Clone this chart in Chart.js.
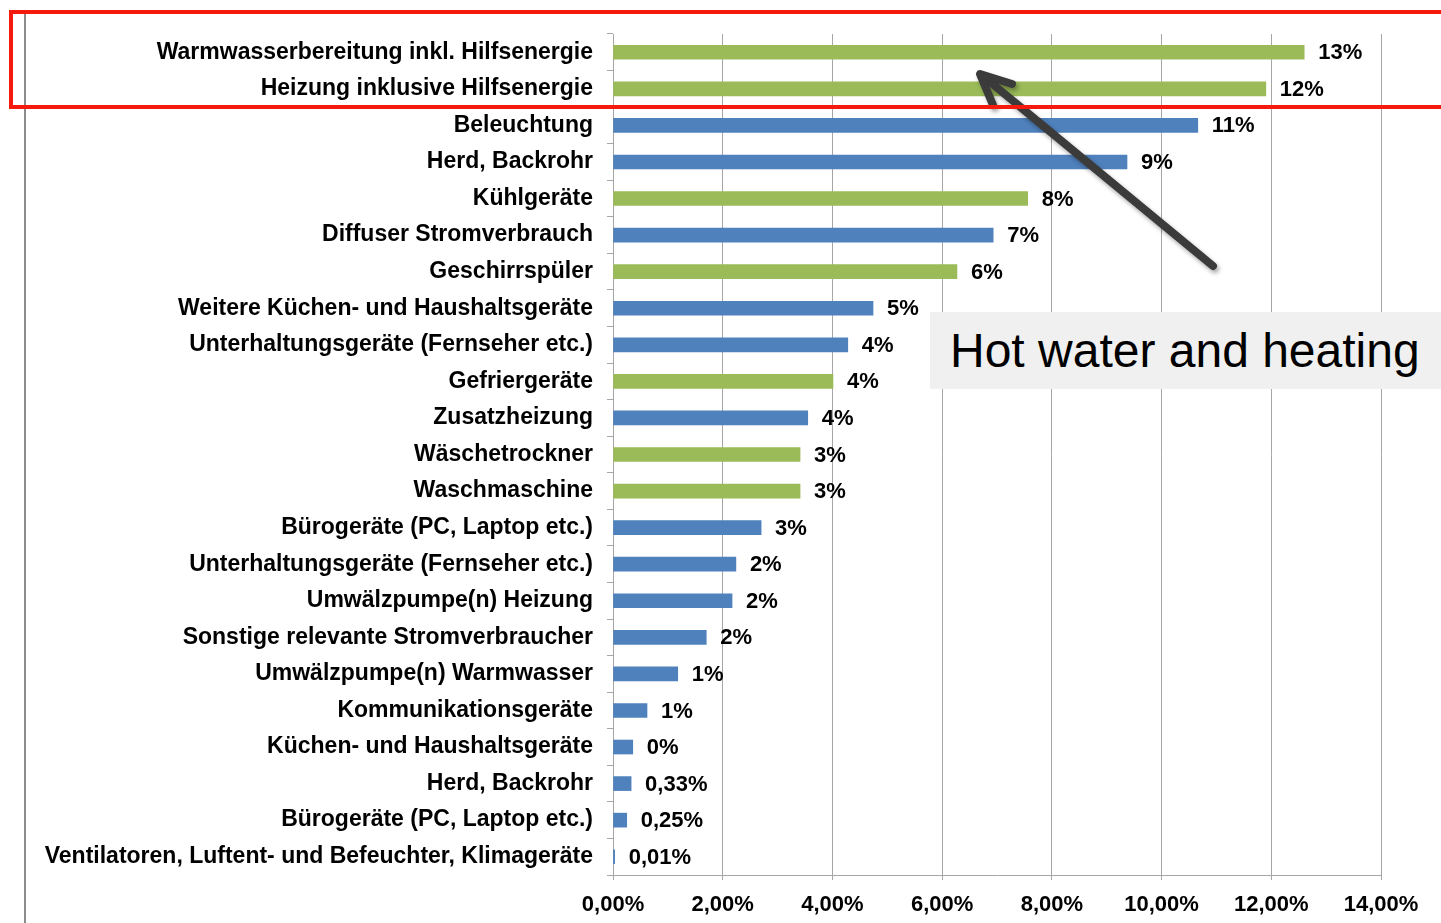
<!DOCTYPE html>
<html>
<head>
<meta charset="utf-8">
<script src="https://cdn.jsdelivr.net/npm/chart.js@4.4.1/dist/chart.umd.min.js"></script>
<style>
    html, body { margin: 0; padding: 0; background: #fff; }
    #wrap { position: relative; width: 1441px; height: 923px; overflow: hidden; }
    #chart { position: absolute; left: 0; top: 0; }
    .leftline { position: absolute; left: 24px; top: 14px; width: 2px; height: 909px; background: #8c8c8c; }
    .redbox { position: absolute; left: 9px; top: 10px; width: 1450px; height: 91px; border: 4px solid #f51a0c; }
    .note { position: absolute; left: 930px; top: 312px; width: 520px; height: 77px; background: #f0f0f0;
            font-family: 'Liberation Sans', Arial, sans-serif; font-size: 48px; line-height: 77px; color: #000;
            padding-left: 20px; box-sizing: border-box; }
    svg { position: absolute; left: 0; top: 0; }
</style>
</head>
<body>
<div id="wrap">
    <canvas id="chart" width="1441" height="923"></canvas>
    <div class="leftline"></div>
    <svg width="1441" height="923">
        <defs>
            <filter id="sh" x="-20%" y="-20%" width="140%" height="140%">
                <feDropShadow dx="2" dy="3" stdDeviation="2" flood-color="#000" flood-opacity="0.35"/>
            </filter>
        </defs>
        <g filter="url(#sh)" stroke="#3a3a3a" stroke-width="8" stroke-linecap="round" stroke-linejoin="round" fill="none">
            <line x1="1213" y1="266" x2="984" y2="77"/>
            <polyline points="1012,84 980,74 993,105"/>
        </g>
    </svg>
    <div class="redbox"></div>
    <div class="note">Hot water and heating</div>
</div>
<script>
// Kategorien (von oben nach unten)
const categories = [
    'Warmwasserbereitung inkl. Hilfsenergie',
    'Heizung inklusive Hilfsenergie',
    'Beleuchtung',
    'Herd, Backrohr',
    'Kühlgeräte',
    'Diffuser Stromverbrauch',
    'Geschirrspüler',
    'Weitere Küchen- und Haushaltsgeräte',
    'Unterhaltungsgeräte (Fernseher etc.)',
    'Gefriergeräte',
    'Zusatzheizung',
    'Wäschetrockner',
    'Waschmaschine',
    'Bürogeräte (PC, Laptop etc.)',
    'Unterhaltungsgeräte (Fernseher etc.)',
    'Umwälzpumpe(n) Heizung',
    'Sonstige relevante Stromverbraucher',
    'Umwälzpumpe(n) Warmwasser',
    'Kommunikationsgeräte',
    'Küchen- und Haushaltsgeräte',
    'Herd, Backrohr',
    'Bürogeräte (PC, Laptop etc.)',
    'Ventilatoren, Luftent- und Befeuchter, Klimageräte'
];

// Anteile in %
const shares = [12.6, 11.9, 10.66, 9.37, 7.56, 6.93, 6.27, 4.74, 4.28, 4.01, 3.55, 3.41, 3.41,
                2.70, 2.24, 2.17, 1.70, 1.18, 0.62, 0.36, 0.33, 0.25, 0.03];

// Beschriftungen an den Balken
const shareLabels = ['13%', '12%', '11%', '9%', '8%', '7%', '6%', '5%', '4%', '4%', '4%', '3%', '3%',
                     '3%', '2%', '2%', '2%', '1%', '1%', '0%', '0,33%', '0,25%', '0,01%'];

// g = grün, b = blau
const groups = ['g', 'g', 'b', 'b', 'g', 'b', 'g', 'b', 'b', 'g', 'b', 'g', 'g',
                'b', 'b', 'b', 'b', 'b', 'b', 'b', 'b', 'b', 'b'];

const xTicks = [0, 2, 4, 6, 8, 10, 12, 14];

const GREEN = '#9bbb59';
const BLUE = '#4f81bd';
const GRID = '#a6a6a6';
const FONT = "'Liberation Sans', Arial, sans-serif";

// Werte neben die Balken schreiben
const barLabels = {
    id: 'barLabels',
    afterDatasetsDraw(chart) {
        const ctx = chart.ctx;
        const meta = chart.getDatasetMeta(0);
        ctx.save();
        ctx.font = 'bold 22px ' + FONT;
        ctx.fillStyle = '#000';
        ctx.textBaseline = 'middle';
        ctx.textAlign = 'left';
        meta.data.forEach((bar, i) => {
            ctx.fillText(shareLabels[i], bar.x + 14, bar.y + 1);
        });
        ctx.restore();
    }
};

new Chart(document.getElementById('chart'), {
    type: 'bar',
    data: {
        labels: categories,
        datasets: [{
            data: shares,
            backgroundColor: groups.map(g => g === 'g' ? GREEN : BLUE),
            barThickness: 14,
            borderWidth: 0
        }]
    },
    options: {
        indexAxis: 'y',
        responsive: false,
        animation: false,
        layout: { padding: { left: 0, right: 60, top: 34, bottom: 0 } },
        plugins: { legend: { display: false }, tooltip: { enabled: false } },
        scales: {
            x: {
                min: 0,
                max: 14,
                afterBuildTicks: scale => { scale.ticks = xTicks.map(v => ({ value: v })); },
                afterFit: scale => { scale.height = 48; },
                grid: { color: GRID, lineWidth: 1, tickLength: 5, tickColor: GRID },
                border: { color: GRID },
                ticks: {
                    color: '#000',
                    padding: 12,
                    font: { family: FONT, size: 22, weight: 'bold' },
                    callback: v => v.toFixed(2).replace('.', ',') + '%'
                }
            },
            y: {
                afterFit: scale => { scale.width = 613; },
                grid: { drawOnChartArea: false, offset: true, tickLength: 6, tickColor: GRID },
                border: { color: GRID },
                ticks: {
                    color: '#000',
                    padding: 14,
                    autoSkip: false,
                    font: { family: FONT, size: 23, weight: 'bold' }
                }
            }
        }
    },
    plugins: [barLabels]
});
</script>
</body>
</html>
